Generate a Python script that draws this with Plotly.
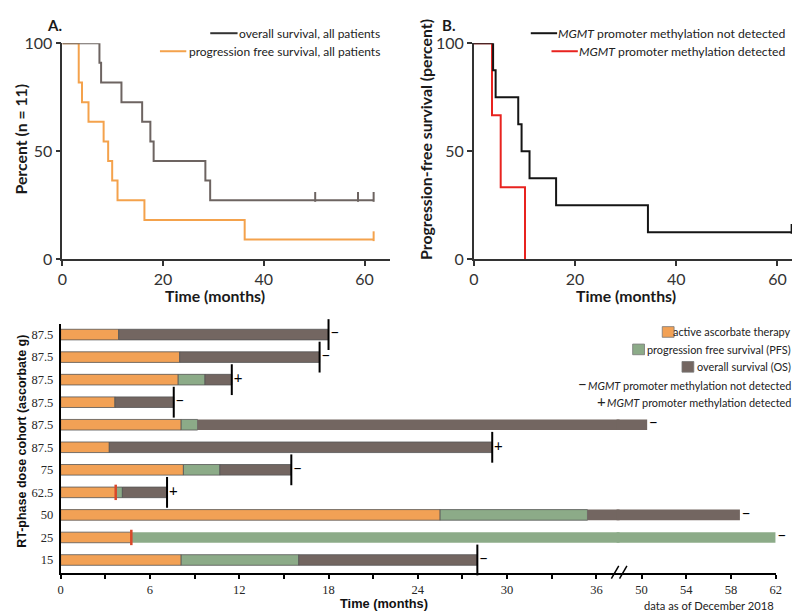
import plotly.graph_objects as go

W, H = 800, 613

# ---------------- Panel A: Kaplan-Meier, all patients ----------------
os_all_t = [0, 7.37, 7.7, 11.74, 15.85, 17.48, 18.13, 28.4, 29.35, 61.8]
os_all_s = [100, 90.9, 81.8, 72.7, 63.6, 54.5, 45.5, 36.4, 27.3, 27.3]
os_all_censor_t = [50.2, 58.7, 61.8]
os_all_censor_s = [27.3, 27.3, 27.3]

pfs_all_t = [0, 3.26, 3.91, 5.2, 8.2, 9.1, 9.9, 10.96, 16.3, 36.2, 61.8]
pfs_all_s = [100, 81.8, 72.7, 63.6, 54.5, 45.5, 36.4, 27.3, 18.2, 9.1, 9.1]
pfs_all_censor_t = [61.8]
pfs_all_censor_s = [9.1]

# ---------------- Panel B: PFS by MGMT status ----------------
unmeth_t = [0, 3.8, 4.3, 8.77, 9.43, 11.0, 16.25, 34.4, 62.8]
unmeth_s = [100, 87.5, 75, 62.5, 50, 37.5, 25, 12.5, 12.5]
unmeth_censor_t = [62.8]
unmeth_censor_s = [12.5]

meth_t = [0, 3.58, 5.3, 10.1]
meth_s = [100, 66.7, 33.3, 0]

# ---------------- Bottom: swimmer plot ----------------
dose_labels = ['87.5', '87.5', '87.5', '87.5', '87.5', '87.5', '75', '62.5', '50', '25', '15']
therapy_end = [3.9, 8.0, 7.9, 3.65, 8.1, 3.27, 8.25, 3.7, 25.5, 4.75, 8.1]
pfs_end = [3.9, 8.0, 9.7, 3.65, 9.2, 3.27, 10.7, 4.15, 35.4, 62.0, 16.0]
os_end = [18.0, 17.4, 11.5, 7.6, 50.5, 29.0, 15.5, 7.15, 58.8, 62.0, 28.0]
died = [True, True, True, True, False, True, True, True, False, False, True]
mgmt_status = ['−', '−', '+', '−', '−', '+', '−', '+', '−', '−', '−']
red_mark = [None, None, None, None, None, None, None, 3.7, None, 4.75, None]

x3_ticks = [0, 3, 6, 9, 12, 15, 18, 21, 24, 27, 30, 33, 36]
x3_ticktext = ['0', '', '6', '', '12', '', '18', '', '24', '', '30', '', '36']
x4_ticks = [50, 54, 58, 62]

# colors
C_OS_A = '#6d6461'
C_PFS_A = '#f4a24c'
C_UNMETH = '#151515'
C_METH = '#e8231f'
C_THER = '#f2a155'
C_PFS = '#8cab88'
C_OS = '#736661'
C_RED = '#d9482a'

SANS = 'Lato'
SERIF = 'Liberation Serif'
ARIAL = 'Liberation Sans'


def px(x):
    return x / W


def py(y):
    return 1 - y / H


fig = go.Figure()

# ---- Panel A traces ----
fig.add_trace(go.Scatter(x=pfs_all_t, y=pfs_all_s, mode='lines', line=dict(color=C_PFS_A, width=2, shape='hv'),
                         xaxis='x', yaxis='y', cliponaxis=False, name='progression free survival, all patients'))
fig.add_trace(go.Scatter(x=os_all_t, y=os_all_s, mode='lines', line=dict(color=C_OS_A, width=2, shape='hv'),
                         xaxis='x', yaxis='y', cliponaxis=False, name='overall survival, all patients'))
pxu_a = (249 - 26) / 100.0
tick_h = 7
off = tick_h / 2 / pxu_a
fig.add_trace(go.Scatter(x=os_all_censor_t, y=[s + off for s in os_all_censor_s], mode='markers',
                         marker=dict(symbol='line-ns', size=tick_h, line=dict(color=C_OS_A, width=2)),
                         xaxis='x', yaxis='y', cliponaxis=False))
fig.add_trace(go.Scatter(x=pfs_all_censor_t, y=[s + off for s in pfs_all_censor_s], mode='markers',
                         marker=dict(symbol='line-ns', size=tick_h, line=dict(color=C_PFS_A, width=2)),
                         xaxis='x', yaxis='y', cliponaxis=False))

# ---- Panel B traces ----
fig.add_trace(go.Scatter(x=meth_t, y=meth_s, mode='lines', line=dict(color=C_METH, width=2, shape='hv'),
                         xaxis='x2', yaxis='y2', cliponaxis=False))
fig.add_trace(go.Scatter(x=unmeth_t, y=unmeth_s, mode='lines', line=dict(color=C_UNMETH, width=2, shape='hv'),
                         xaxis='x2', yaxis='y2', cliponaxis=False))
fig.add_trace(go.Scatter(x=unmeth_censor_t, y=[s + off for s in unmeth_censor_s], mode='markers',
                         marker=dict(symbol='line-ns', size=tick_h, line=dict(color=C_UNMETH, width=2)),
                         xaxis='x2', yaxis='y2', cliponaxis=False))

# ---- Bottom swimmer bars ----
n = len(dose_labels)
rows = list(range(n - 1, -1, -1))
X3_PX0, X3_PX1 = 48.3, 615.0
X3_PPM = 15.09                      # pixels per month, first segment
X3_MAX = (X3_PX1 - X3_PX0) / X3_PPM
X4_PX0, X4_PX1 = 612.0, 773.3
X4_MIN = 62 - (X4_PX1 - X4_PX0) / 11.33


def seg(a, b):
    return [(bb - aa) if bb - aa > 1e-9 else None for aa, bb in zip(a, b)]


zeros = [0] * n
segments = [
    (zeros, seg(zeros, therapy_end), C_THER),
    (therapy_end, seg(therapy_end, pfs_end), C_PFS),
    (pfs_end, seg(pfs_end, os_end), C_OS),
]
for xa, ya in (('x3', 'y3'), ('x4', 'y4')):
    for base, length, col in segments:
        lw = []
        for b, l in zip(base, length):
            end = b + (l or 0)
            crosses = (b < X3_MAX < end) if l else False
            lw.append(0 if crosses else 0.8)
        fig.add_trace(go.Bar(y=rows, x=length, base=base, orientation='h', width=0.47,
                             marker=dict(color=col, line=dict(color='#555555', width=lw)),
                             xaxis=xa, yaxis=ya))

# death markers
d_x = [o for o, d in zip(os_end, died) if d]
d_y = [r for r, d in zip(rows, died) if d]
fig.add_trace(go.Scatter(x=d_x, y=d_y, mode='markers', xaxis='x3', yaxis='y3', cliponaxis=False,
                         marker=dict(symbol='line-ns', size=22, line=dict(color='black', width=2))))
# red marks
r_x = [m for m in red_mark if m is not None]
r_y = [r for r, m in zip(rows, red_mark) if m is not None]
fig.add_trace(go.Scatter(x=r_x, y=r_y, mode='markers', xaxis='x3', yaxis='y3', cliponaxis=False,
                         marker=dict(symbol='line-ns', size=11, line=dict(color=C_RED, width=2.5))))
# MGMT signs
for xa, ya, cond in (('x3', 'y3', lambda v: v <= X3_MAX), ('x4', 'y4', lambda v: v > X3_MAX)):
    tx = [o for o in os_end if cond(o)]
    ty = [r for r, o in zip(rows, os_end) if cond(o)]
    tt = ['\u2009' + m for m, o in zip(mgmt_status, os_end) if cond(o)]
    fig.add_trace(go.Scatter(x=tx, y=ty, text=tt, mode='text', textposition='middle right',
                             textfont=dict(family=SANS, size=15, color='black'),
                             xaxis=xa, yaxis=ya, cliponaxis=False))

# ---------------- axes ----------------
tickfont_p = dict(family=SANS, size=16, color='#333333')
ax_common = dict(showgrid=False, zeroline=False, showline=True, linewidth=1.6, ticks='outside', ticklen=5,
                 tickwidth=1.5, tickfont=tickfont_p)
bt_font = dict(family=SERIF, size=12.5, color='#262626')
fig.update_layout(
    xaxis=dict(domain=[px(50), px(382)], range=[0, 65], tickvals=[0, 20, 40, 60], anchor='y',
               linecolor='#333333', tickcolor='#333333', **ax_common),
    yaxis=dict(domain=[py(249), py(26)], range=[0, 100], tickvals=[0, 50, 100], anchor='x',
               linecolor='#333333', tickcolor='#333333', **ax_common),
    xaxis2=dict(domain=[px(467.3), px(800)], range=[0, 64.85], tickvals=[0, 20, 40, 60], anchor='y2',
                linecolor='#333333', tickcolor='#333333', **ax_common),
    yaxis2=dict(domain=[py(249), py(26)], range=[0, 100], tickvals=[0, 50, 100], anchor='x2',
                linecolor='#333333', tickcolor='#333333', **ax_common),
    xaxis3=dict(domain=[px(X3_PX0), px(X3_PX1)], range=[0, X3_MAX], tickvals=x3_ticks, ticktext=x3_ticktext,
                anchor='y3', showgrid=False, zeroline=False, showline=True, linecolor='black', linewidth=1.6,
                ticks='outside', ticklen=4, tickwidth=1.5, tickcolor='black', tickfont=bt_font),
    xaxis4=dict(domain=[px(X4_PX0), px(X4_PX1)], range=[X4_MIN, 62], tickvals=x4_ticks,
                anchor='y4', showgrid=False, zeroline=False, showline=True, linecolor='black', linewidth=1.6,
                ticks='outside', ticklen=4, tickwidth=1.5, tickcolor='black', tickfont=bt_font),
    yaxis3=dict(domain=[py(572.7), py(316)], range=[-0.575, 10.46], tickvals=rows, ticktext=dose_labels,
                anchor='x3', showgrid=False, zeroline=False, showline=True, linecolor='black', linewidth=1.6,
                ticks='', tickfont=bt_font, ticklabelstandoff=3),
    yaxis4=dict(domain=[py(572.7), py(316)], range=[-0.575, 10.46], anchor='x4', visible=False),
)

# ---------------- annotations & legend decorations ----------------
ann = []
shapes = []


def text(x, y, t, size, family=SANS, bold=False, xanchor='center', angle=0, color='#1a1a1a'):
    ann.append(dict(x=px(x), y=py(y), xref='paper', yref='paper', text=('<b>%s</b>' % t) if bold else t,
                    showarrow=False, xanchor=xanchor, yanchor='middle', textangle=angle, borderpad=0,
                    font=dict(family=family, size=size, color=color)))


text(42.5, 7, 'A.', 15, bold=True)
text(442, 7, 'B.', 15, bold=True)
text(204.5, 286, 'Time (months)', 15.8, bold=True)
text(622, 286, 'Time (months)', 15.8, bold=True)
text(8, 124.5, 'Percent (n = 11)', 15.8, bold=True, angle=-90)
text(417.5, 125, 'Progression-free survival (percent)', 15.8, bold=True, angle=-90)

# panel legends
LEG_A = 12.0
LEG_P = 12.2
text(373, 15.7, 'overall survival, all patients', LEG_A, xanchor='right', color='#222')
text(373, 34.3, 'progression free survival, all patients', LEG_A, xanchor='right', color='#222')
shapes.append(dict(type='line', xref='paper', yref='paper', x0=px(200), x1=px(227.7), y0=py(15.7), y1=py(15.7),
                   line=dict(color='#333333', width=2)))
shapes.append(dict(type='line', xref='paper', yref='paper', x0=px(149), x1=px(175.7), y0=py(34.3), y1=py(34.3),
                   line=dict(color=C_PFS_A, width=2)))
text(783.5, 15.7, '<i>MGMT</i> promoter methylation not detected', LEG_P, xanchor='right', color='#222')
text(783.5, 34.3, '<i>MGMT</i> promoter methylation detected', LEG_P, xanchor='right', color='#222')
shapes.append(dict(type='line', xref='paper', yref='paper', x0=px(525), x1=px(551.7), y0=py(15.7), y1=py(15.7),
                   line=dict(color=C_UNMETH, width=2)))
shapes.append(dict(type='line', xref='paper', yref='paper', x0=px(546), x1=px(572.7), y0=py(34.3), y1=py(34.3),
                   line=dict(color=C_METH, width=2)))

# bottom legend
LEG_B = 10.9
leg = [(324, 658.3, C_THER, 'active ascorbate therapy'),
       (342, 628.3, C_PFS, 'progression free survival (PFS)'),
       (360, 678.3, C_OS, 'overall survival (OS)')]
for yc, x0, col, lab in leg:
    shapes.append(dict(type='rect', xref='paper', yref='paper', x0=px(x0), x1=px(x0 + 12), y0=py(yc + 5.5),
                       y1=py(yc - 5.5), fillcolor=col, line=dict(color='#777777', width=0.8)))
    text(790, yc, lab, LEG_B, xanchor='right', color='#222')
text(790, 377.3, '<span style="font-size:15px">−</span>\u2009<i>MGMT</i> promoter methylation not detected',
     LEG_B, xanchor='right', color='#222')
text(790, 395, '<span style="font-size:15px">+</span>\u2009<i>MGMT</i> promoter methylation detected',
     LEG_B, xanchor='right', color='#222')

text(9.5, 437, 'RT-phase dose cohort (ascorbate g)', 12.5, family=ARIAL, bold=True, angle=-90, color='#111')
text(376, 604, 'Time (months)', 12.8, family=ARIAL, bold=True, color='#111')
text(773, 606, 'data as of December 2018', 11.2, xanchor='right', color='#222')

# axis break slashes
for xs in (606.7, 615):
    shapes.append(dict(type='line', xref='paper', yref='paper', x0=px(xs), y0=py(578.5), x1=px(xs + 7.5),
                       y1=py(565.5), line=dict(color='black', width=1.5)))

fig.update_layout(
    width=W, height=H, margin=dict(l=0, r=0, t=0, b=0),
    paper_bgcolor='white', plot_bgcolor='rgba(0,0,0,0)', showlegend=False,
    barmode='overlay', annotations=ann, shapes=shapes,
)

fig.write_html('out.html')
